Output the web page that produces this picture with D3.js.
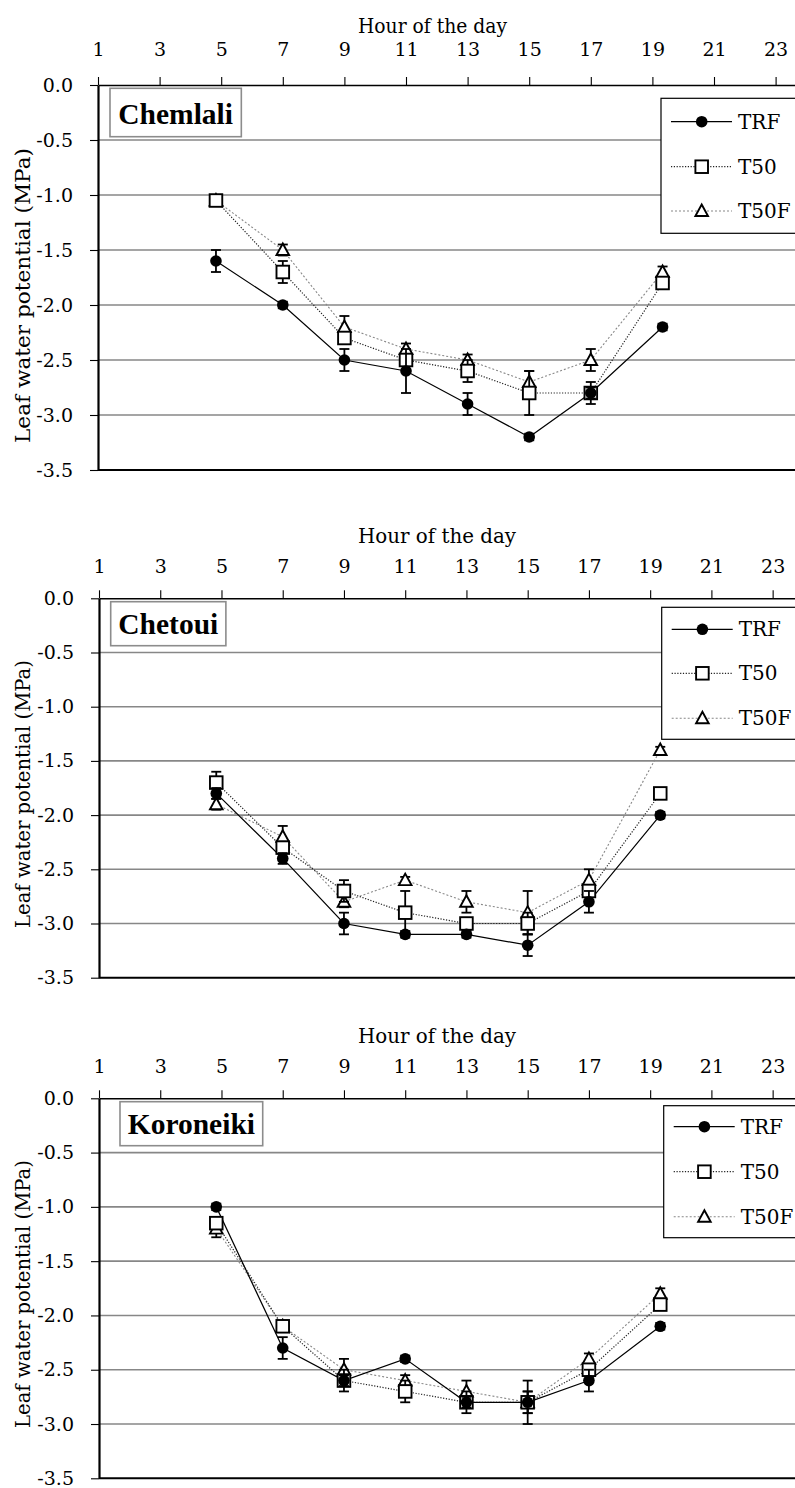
<!DOCTYPE html>
<html lang="en">
<head>
  <meta charset="UTF-8" />
  <title>Leaf water potential - daily course</title>
  <script src="https://d3js.org/d3.v7.min.js"></script>
  <style>
    body { margin: 0; background: #fff; }
    svg { display: block; background: #fff; }
  </style>
</head>
<body>

<svg width="795" height="1488"></svg>

<script>
  // ---- data ----
  const hours = [4.83, 7, 9, 11, 13, 15, 17, 19.33];
  const hourTicks = [1, 3, 5, 7, 9, 11, 13, 15, 17, 19, 21, 23];
  const yTicks = [0, -0.5, -1, -1.5, -2, -2.5, -3, -3.5];
  const varieties = ["Chemlali", "Chetoui", "Koroneiki"];
  const seriesNames = ["TRF", "T50", "T50F"];

  // Chemlali
  const chemlaliTRF     = [-1.6, -2.0, -2.5, -2.6, -2.9, -3.2, -2.8, -2.2];
  const chemlaliTRFerr  = [0.1, 0.03, 0.1, 0.2, 0.1, 0.03, 0.05, 0.03];
  const chemlaliT50     = [-1.05, -1.7, -2.3, -2.5, -2.6, -2.8, -2.8, -1.8];
  const chemlaliT50err  = [0.02, 0.1, 0.05, 0.05, 0.1, 0.2, 0.1, 0.03];
  const chemlaliT50F    = [-1.05, -1.5, -2.2, -2.4, -2.5, -2.7, -2.5, -1.7];
  const chemlaliT50Ferr = [0.02, 0.05, 0.1, 0.05, 0.05, 0.1, 0.1, 0.05];

  // Chetoui
  const chetouiTRF     = [-1.8, -2.4, -3.0, -3.1, -3.1, -3.2, -2.8, -2.0];
  const chetouiTRFerr  = [0.05, 0.05, 0.1, 0.03, 0.03, 0.1, 0.1, 0.03];
  const chetouiT50     = [-1.7, -2.3, -2.7, -2.9, -3.0, -3.0, -2.7, -1.8];
  const chetouiT50err  = [0.1, 0.05, 0.1, 0.2, 0.05, 0.1, 0.05, 0.03];
  const chetouiT50F    = [-1.9, -2.2, -2.8, -2.6, -2.8, -2.9, -2.6, -1.4];
  const chetouiT50Ferr = [0.05, 0.1, 0.05, 0.03, 0.1, 0.2, 0.1, 0.03];

  // Koroneiki
  const koroneikiTRF     = [-1.0, -2.3, -2.6, -2.4, -2.8, -2.8, -2.6, -2.1];
  const koroneikiTRFerr  = [0.03, 0.1, 0.05, 0.03, 0.05, 0.2, 0.1, 0.03];
  const koroneikiT50     = [-1.15, -2.1, -2.6, -2.7, -2.8, -2.8, -2.5, -1.9];
  const koroneikiT50err  = [0.05, 0.03, 0.1, 0.1, 0.1, 0.1, 0.05, 0.05];
  const koroneikiT50F    = [-1.2, -2.1, -2.5, -2.6, -2.7, -2.8, -2.4, -1.8];
  const koroneikiT50Ferr = [0.08, 0.03, 0.1, 0.05, 0.1, 0.1, 0.05, 0.05];

  const panelData = [
    { TRF: [chemlaliTRF, chemlaliTRFerr], T50: [chemlaliT50, chemlaliT50err], T50F: [chemlaliT50F, chemlaliT50Ferr] },
    { TRF: [chetouiTRF, chetouiTRFerr], T50: [chetouiT50, chetouiT50err], T50F: [chetouiT50F, chetouiT50Ferr] },
    { TRF: [koroneikiTRF, koroneikiTRFerr], T50: [koroneikiT50, koroneikiT50err], T50F: [koroneikiT50F, koroneikiT50Ferr] }
  ];

  // ---- layout of each panel ----
  const layouts = [
    { top: 85, bottom: 470, left: 98, ppH: 30.8, tickPad: 21, titleY: 33, titleLen: 149,
      yTitleC: 295.5, yTitleLen: 295,
      box: { x: 110, y: 88.3, h: 48.4, tx: 118.3, ty: 124 },
      legend: { x: 661, y: 98.3, h: 135, rows: [121.7, 166.7, 211] } },
    { top: 598.3, bottom: 977.7, left: 99, ppH: 30.62, tickPad: 17, titleY: 543.3, titleLen: 158,
      yTitleC: 794, yTitleLen: 268,
      box: { x: 110.7, y: 601.7, h: 44, tx: 118.3, ty: 634 },
      legend: { x: 661.7, y: 607.3, h: 132, rows: [629.3, 673.3, 718.3] } },
    { top: 1098.3, bottom: 1478.3, left: 99, ppH: 30.62, tickPad: 17, titleY: 1043.3, titleLen: 158,
      yTitleC: 1294, yTitleLen: 268,
      box: { x: 120, y: 1101.7, h: 44, tx: 127.7, ty: 1134 },
      legend: { x: 663.7, y: 1105.7, h: 132, rows: [1126.7, 1171.7, 1216.7] } }
  ];

  const FONT = "'DejaVu Serif', serif";
  const BOLD_FONT = "'Liberation Serif', serif";

  const style = {
    TRF:  { stroke: "#000", dash: null,      width: 1.2 },
    T50:  { stroke: "#222", dash: "1.2,1.6", width: 1.2 },
    T50F: { stroke: "#888", dash: "2,2",     width: 1.1 }
  };

  const svg = d3.select("svg");

  function drawMarker(g, name, cx, cy) {
    if (name === "TRF") {
      g.append("circle").attr("cx", cx).attr("cy", cy).attr("r", 5.8).attr("fill", "#000");
    } else if (name === "T50") {
      g.append("rect").attr("x", cx - 6.3).attr("y", cy - 6.3).attr("width", 12.6).attr("height", 12.6)
        .attr("fill", "#fff").attr("stroke", "#000").attr("stroke-width", 1.9);
    } else {
      g.append("path")
        .attr("d", `M${cx},${cy - 6.5} L${cx + 6.3},${cy + 5} L${cx - 6.3},${cy + 5} Z`)
        .attr("fill", "#fff").attr("stroke", "#000").attr("stroke-width", 1.9)
        .attr("stroke-linejoin", "miter");
    }
  }

  layouts.forEach((L, p) => {
    const x = d3.scaleLinear().domain([1, 24]).range([L.left, L.left + 23 * L.ppH]);
    const y = d3.scaleLinear().domain([0, -3.5]).range([L.top, L.bottom]);
    const g = svg.append("g");
    const right = 800;

    // gridlines
    g.selectAll(".grid")
      .data(yTicks.filter(v => v < 0 && v > -3.5))
      .join("line")
      .attr("x1", L.left).attr("x2", right)
      .attr("y1", d => y(d)).attr("y2", d => y(d))
      .attr("stroke", "#878787").attr("stroke-width", 1.6);

    // bottom frame line
    g.append("line")
      .attr("x1", L.left).attr("x2", right)
      .attr("y1", y(-3.5)).attr("y2", y(-3.5))
      .attr("stroke", "#000").attr("stroke-width", 2);

    // top x axis
    const xAxis = g.append("g")
      .attr("transform", `translate(0,${y(0)})`)
      .call(d3.axisTop(x).tickValues(hourTicks).tickSize(8).tickSizeOuter(0).tickPadding(L.tickPad));
    xAxis.attr("font-family", FONT).attr("font-size", 19);
    xAxis.select(".domain").attr("stroke-width", 1.6);
    xAxis.selectAll(".tick line").attr("stroke-width", 1.1);

    // left y axis
    const yAxis = g.append("g")
      .attr("transform", `translate(${L.left},0)`)
      .call(d3.axisLeft(y).tickValues(yTicks).tickSize(8).tickSizeOuter(0).tickPadding(17)
        .tickFormat(d => (d === 0 ? "0.0" : d.toFixed(1))));
    yAxis.attr("font-family", FONT).attr("font-size", 19);
    yAxis.select(".domain").attr("stroke-width", 2.2);
    yAxis.selectAll(".tick line").attr("stroke-width", 1.1);

    // axis titles
    g.append("text")
      .attr("x", 358).attr("y", L.titleY)
      .attr("font-family", FONT).attr("font-size", 20)
      .attr("textLength", L.titleLen).attr("lengthAdjust", "spacingAndGlyphs")
      .text("Hour of the day");

    g.append("text")
      .attr("transform", `translate(30,${L.yTitleC}) rotate(-90)`)
      .attr("text-anchor", "middle")
      .attr("font-family", FONT).attr("font-size", 20)
      .attr("textLength", L.yTitleLen).attr("lengthAdjust", "spacingAndGlyphs")
      .text("Leaf water potential (MPa)");

    // series lines
    const data = panelData[p];
    const order = ["T50F", "T50", "TRF"];
    const line = d3.line().x(d => x(d[0])).y(d => y(d[1]));
    order.forEach(name => {
      const pts = hours.map((h, i) => [h, data[name][0][i]]);
      g.append("path")
        .attr("d", line(pts))
        .attr("fill", "none")
        .attr("stroke", style[name].stroke)
        .attr("stroke-width", style[name].width)
        .attr("stroke-dasharray", style[name].dash);
    });

    // error bars and markers
    order.forEach(name => {
      const vals = data[name][0], errs = data[name][1];
      const eg = g.append("g").attr("stroke", "#000").attr("stroke-width", 1.8);
      hours.forEach((h, i) => {
        const cx = x(h), y1 = y(vals[i] + errs[i]), y2 = y(vals[i] - errs[i]);
        eg.append("line").attr("x1", cx).attr("x2", cx).attr("y1", y1).attr("y2", y2);
        eg.append("line").attr("x1", cx - 5).attr("x2", cx + 5).attr("y1", y1).attr("y2", y1);
        eg.append("line").attr("x1", cx - 5).attr("x2", cx + 5).attr("y1", y2).attr("y2", y2);
      });
      hours.forEach((h, i) => drawMarker(g, name, x(h), y(vals[i])));
    });

    // variety label box
    const lbl = g.append("text")
      .attr("x", L.box.tx).attr("y", L.box.ty)
      .attr("font-family", BOLD_FONT)
      .attr("font-size", 29.5).attr("font-weight", "bold")
      .text(varieties[p]);
    const w = lbl.node().getComputedTextLength();
    g.insert("rect", () => lbl.node())
      .attr("x", L.box.x).attr("y", L.box.y)
      .attr("width", (L.box.tx - L.box.x) * 2 + w).attr("height", L.box.h)
      .attr("fill", "#fff").attr("stroke", "#8c8c8c").attr("stroke-width", 1.6);

    // legend
    const lg = g.append("g");
    lg.append("rect")
      .attr("x", L.legend.x).attr("y", L.legend.y)
      .attr("width", right - L.legend.x).attr("height", L.legend.h)
      .attr("fill", "#fff").attr("stroke", "#000").attr("stroke-width", 1.2);
    seriesNames.forEach((name, i) => {
      const ry = L.legend.rows[i];
      lg.append("line")
        .attr("x1", L.legend.x + 10).attr("x2", L.legend.x + 71)
        .attr("y1", ry).attr("y2", ry)
        .attr("stroke", style[name].stroke)
        .attr("stroke-width", style[name].width)
        .attr("stroke-dasharray", style[name].dash);
      drawMarker(lg, name, L.legend.x + 40.7, ry);
      lg.append("text")
        .attr("x", L.legend.x + 77).attr("y", ry)
        .attr("dy", "0.35em")
        .attr("font-family", FONT).attr("font-size", 20)
        .text(name);
    });
  });
</script>

</body>
</html>
